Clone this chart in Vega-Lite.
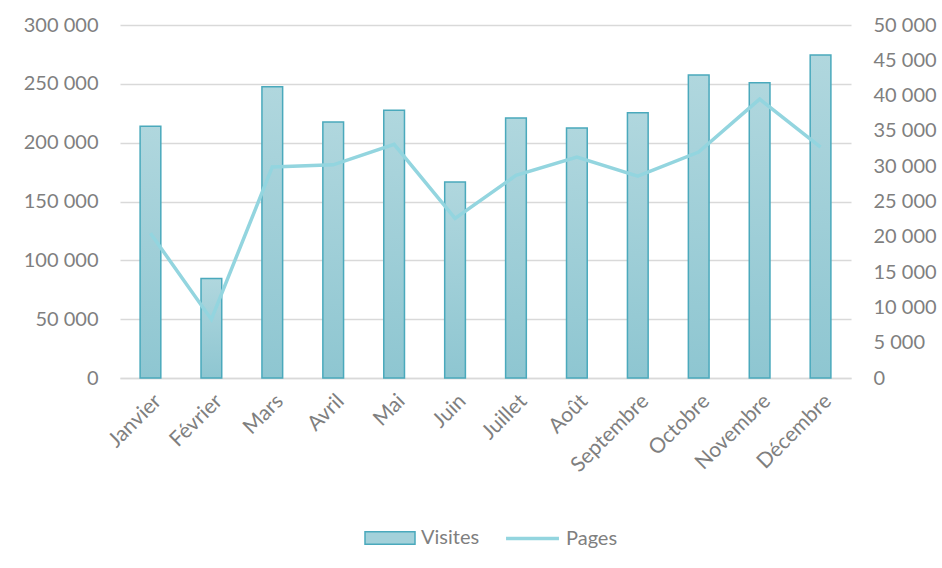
{
  "$schema": "https://vega.github.io/schema/vega-lite/v6.json",
  "width": 731,
  "height": 353,
  "padding": {"left": 120, "top": 25, "right": 91, "bottom": 190},
  "autosize": {"type": "none"},
  "background": "white",
  "config": {
    "font": "Lato",
    "view": {"stroke": null},
    "locale": {"number": {"decimal": ",", "thousands": " ", "grouping": [3], "currency": ["", " €"]}},
    "axis": {"labelColor": "#7f7f7f", "labelFontSize": 20, "labelFont": "Lato", "titleColor": "#7f7f7f"}
  },
  "data": {"values": [
    {"mois": "Janvier", "visites": 214000, "pages": 20500},
    {"mois": "Février", "visites": 84500, "pages": 8300},
    {"mois": "Mars", "visites": 247500, "pages": 29900},
    {"mois": "Avril", "visites": 217500, "pages": 30200},
    {"mois": "Mai", "visites": 227500, "pages": 33100},
    {"mois": "Juin", "visites": 166500, "pages": 22600},
    {"mois": "Juillet", "visites": 221000, "pages": 28700},
    {"mois": "Août", "visites": 212500, "pages": 31300},
    {"mois": "Septembre", "visites": 225500, "pages": 28600},
    {"mois": "Octobre", "visites": 257500, "pages": 32000},
    {"mois": "Novembre", "visites": 251000, "pages": 39500},
    {"mois": "Décembre", "visites": 274500, "pages": 32700}
  ]},
  "encoding": {
    "x": {
      "field": "mois", "type": "nominal", "sort": null,
      "scale": {"paddingInner": 0.66, "paddingOuter": 0.33},
      "axis": {"title": null, "labelAngle": -45, "labelFontSize": 21, "ticks": false, "domainColor": "#d9d9d9", "domainWidth": 1.5, "labelPadding": 12, "grid": false}
    }
  },
  "layer": [
    {
      "mark": {
        "type": "bar",
        "stroke": "#4aa9bc",
        "strokeWidth": 1.5,
        "fill": {"gradient": "linear", "x1": 0, "y1": 0, "x2": 0, "y2": 1, "stops": [{"offset": 0, "color": "#b0d7de"}, {"offset": 1, "color": "#8ec6d1"}]}
      },
      "encoding": {
        "y": {
          "field": "visites", "type": "quantitative",
          "scale": {"domain": [0, 300000]},
          "axis": {"title": null, "values": [0, 50000, 100000, 150000, 200000, 250000, 300000], "ticks": false, "domain": false, "gridColor": "#d9d9d9", "gridWidth": 1.5, "labelPadding": 22}
        },
        "color": {
          "datum": "Visites",
          "scale": {"domain": ["Visites"], "range": ["#a3d1da"]},
          "legend": {"title": null, "orient": "none", "legendX": 244, "legendY": 487, "symbolType": "M-1,-0.25H1V0.25H-1Z", "symbolSize": 2500, "symbolStrokeColor": "#4aa9bc", "symbolStrokeWidth": 1.5, "labelFontSize": 20, "labelColor": "#7f7f7f", "labelFont": "Lato", "labelOffset": 5}
        }
      }
    },
    {
      "mark": {"type": "line", "color": "#93d5df", "strokeWidth": 3.5},
      "encoding": {
        "y": {
          "field": "pages", "type": "quantitative",
          "scale": {"domain": [0, 50000]},
          "axis": {"title": null, "orient": "right", "values": [0, 5000, 10000, 15000, 20000, 25000, 30000, 35000, 40000, 45000, 50000], "ticks": false, "domain": false, "grid": false, "labelPadding": 22}
        },
        "stroke": {
          "datum": "Pages",
          "scale": {"domain": ["Pages"], "range": ["#93d5df"]},
          "legend": {"title": null, "orient": "none", "legendX": 384, "legendY": 485, "symbolType": "stroke", "symbolSize": 2800, "symbolStrokeWidth": 3.5, "labelFontSize": 20, "labelColor": "#7f7f7f", "labelFont": "Lato", "labelOffset": 5}
        }
      }
    }
  ],
  "resolve": {"scale": {"y": "independent", "color": "independent"}}
}
